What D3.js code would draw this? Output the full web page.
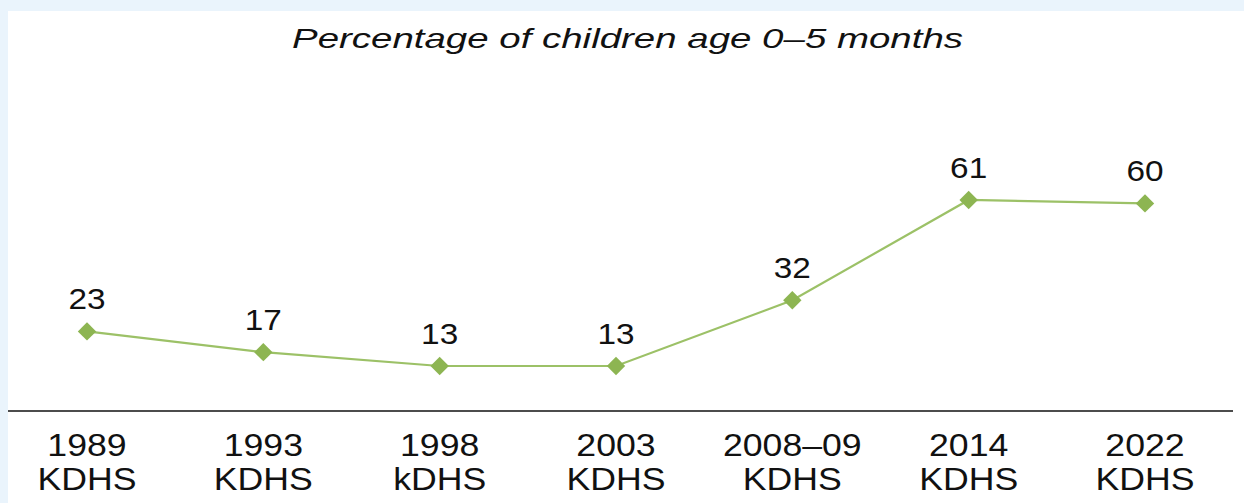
<!DOCTYPE html>
<html>
<head>
<meta charset="utf-8">
<script src="https://cdn.jsdelivr.net/npm/d3@7"></script>
<style>
  html, body { margin: 0; padding: 0; background: #eaf4fc; }
  svg { display: block; }
  text { font-family: "Liberation Sans", Arial, sans-serif; fill: #111; }
</style>
</head>
<body>
<script>
const surveys = ["1989", "1993", "1998", "2003", "2008\u201309", "2014", "2022"];
const surveyNames = ["KDHS", "KDHS", "kDHS", "KDHS", "KDHS", "KDHS", "KDHS"];
const values = [23, 17, 13, 13, 32, 61, 60];
const title = "Percentage of children age 0\u20135 months";

const W = 1244, H = 503;
const svg = d3.select("body").append("svg").attr("width", W).attr("height", H);

// panel
svg.append("rect").attr("x", 0).attr("y", 0).attr("width", W).attr("height", H).attr("fill", "#eaf4fc");
svg.append("rect").attr("x", 8).attr("y", 11).attr("width", W - 8).attr("height", H - 11).attr("fill", "#ffffff");

const x = d3.scalePoint().domain(surveys).range([87, 1145]);
const y = d3.scaleLinear().domain([0, 100]).range([411, 65]);

// title
svg.append("text")
  .attr("x", 627.5).attr("y", 48)
  .attr("text-anchor", "middle")
  .attr("font-size", 28)
  .attr("font-style", "italic")
  .attr("textLength", 671)
  .attr("lengthAdjust", "spacingAndGlyphs")
  .text(title);

// axis
const axis = d3.axisBottom(x).tickSize(0).tickFormat("");
const gAxis = svg.append("g").attr("transform", `translate(0,${y(0)})`).call(axis);
gAxis.select(".domain").attr("d", `M8,0H1233`).attr("stroke", "#111").attr("stroke-width", 1.5);

// category labels
const cat = svg.append("g").selectAll("g.cat").data(surveys).join("g")
  .attr("class", "cat");
cat.append("text")
  .attr("transform", d => `translate(${x(d)},456) scale(1.15,1)`)
  .attr("text-anchor", "middle").attr("font-size", 31)
  .text(d => d);
cat.append("text")
  .attr("transform", (d, i) => `translate(${x(d)},490) scale(1.15,1)`)
  .attr("text-anchor", "middle").attr("font-size", 31)
  .text((d, i) => surveyNames[i]);

// line
const data = surveys.map((s, i) => ({ s, v: values[i] }));
svg.append("path").datum(data)
  .attr("fill", "none").attr("stroke", "#9cc167").attr("stroke-width", 2.2)
  .attr("d", d3.line().x(d => x(d.s)).y(d => y(d.v)));

// markers
svg.append("g").selectAll("rect").data(data).join("rect")
  .attr("x", -6.5).attr("y", -6.5).attr("width", 13).attr("height", 13)
  .attr("fill", "#8db552")
  .attr("transform", d => `translate(${x(d.s)},${y(d.v)}) rotate(45)`);

// value labels
svg.append("g").selectAll("text").data(data).join("text")
  .attr("transform", d => `translate(${x(d.s)},${y(d.v) - 22}) scale(1.15,1)`)
  .attr("text-anchor", "middle").attr("font-size", 29)
  .text(d => d.v);
</script>
</body>
</html>
